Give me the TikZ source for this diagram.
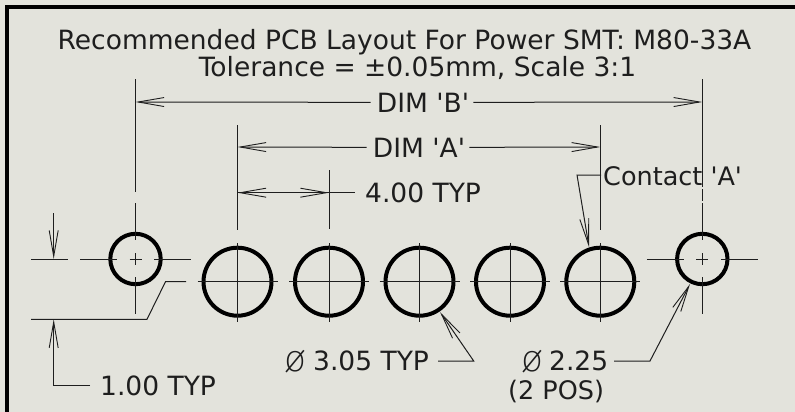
\documentclass[tikz,border=0pt]{standalone}
\usepackage{fontspec}
\setmainfont{DejaVu Sans}
\newfontfamily\diafont{DejaVu Sans ExtraLight}
\usetikzlibrary{arrows.meta}
\definecolor{sheet}{HTML}{E3E3DC}
\definecolor{ink}{HTML}{1E1E1E}
\tikzset{
  thinline/.style={ink, line width=1pt},
  holeline/.style={black, line width=4pt},
  dimarrow/.style={thinline, -{Straight Barb[length=26pt, width=9pt, line width=0.9pt]}},
  dimtext/.style={ink, font=\fontsize{26.5}{26.5}\selectfont, inner sep=0pt},
  diatext/.style={ink, font=\diafont\fontsize{36}{36}\selectfont, inner sep=0pt},
}
\begin{document}
\begin{tikzpicture}[x=1pt, y=-1pt]
    \useasboundingbox (0,0) rectangle (795,412);
    \fill[sheet] (0,0) rectangle (795,412);
    \draw[black, line width=4pt] (7,412) -- (7,7.5) -- (795,7.5);

    % big holes
    \foreach \cx in {237.5,329,419.5,510,600.3} {
        \draw[holeline] (\cx,281.7) circle (34);
        \draw[thinline] (\cx-40,281.7) -- (\cx+40,281.7);
        \draw[thinline] (\cx,243) -- (\cx,322);
    }

    % small holes
    \foreach \cx in {135.5,702.3} {
        \draw[holeline] (\cx,259) circle (25.2);
        \draw[thinline] (\cx-55.5,259) -- (\cx-18.5,259);
        \draw[thinline] (\cx-6,259) -- (\cx+6,259);
        \draw[thinline] (\cx+18.5,259) -- (\cx+55.5,259);
        \draw[thinline] (\cx,253) -- (\cx,265);
        \draw[thinline] (\cx,277) -- (\cx,314);
        \draw[thinline] (\cx,203) -- (\cx,240);
    }

    % extension lines
    \draw[thinline] (135.5,79) -- (135.5,192);
    \draw[thinline] (702.3,79) -- (702.3,187);
    \draw[thinline] (702.3,189) -- (702.3,201);
    \draw[thinline] (237.5,125) -- (237.5,230);
    \draw[thinline] (600.3,125) -- (600.3,230);
    \draw[thinline] (329,170) -- (329,229);
    \draw[thinline] (31,259) -- (68,259);

    % texts
    \node[dimtext, anchor=base] (title) at (404.5,49) {Recommended PCB Layout For Power SMT: M80-33A};
    \node[dimtext, anchor=base] (tol) at (417.5,77) {Tolerance = ±0.05mm, Scale 3:1};
    \node[dimtext, anchor=base] (dimb) at (423,112) {DIM \textquotesingle B\textquotesingle};
    \node[dimtext, anchor=base] (dima) at (419,157) {DIM \textquotesingle A\textquotesingle};
    \node[dimtext, anchor=base west] (pitch) at (365,202) {4.00 TYP};
    \node[dimtext, anchor=base west, font=\fontsize{25.5}{25.5}\selectfont] (contact) at (603,185) {Contact \textquotesingle A\textquotesingle};
    \node[diatext] (bigsym) at (295.5,361.5) {ø};
    \node[dimtext, anchor=base west] (bigdia) at (313,370.7) {3.05 TYP};
    \node[diatext] (smallsym) at (532.7,361.5) {ø};
    \node[dimtext, anchor=base west] (smalldia) at (549,370.7) {2.25};
    \node[dimtext, anchor=base west, font=\fontsize{25.5}{25.5}\selectfont] (pos) at (508,399) {(2 POS)};
    \node[dimtext, anchor=base west] (offset) at (100,395) {1.00 TYP};

    % dimensions
    \draw[dimarrow] (dimb.west) ++(-6,0) -- (135.5,102);
    \draw[dimarrow] (dimb.east) ++(4,0) -- (702.3,102);
    \draw[dimarrow] (dima.west) ++(-6,0) -- (237.5,147);
    \draw[dimarrow] (dima.east) ++(4,0) -- (600.3,147);
    \draw[dimarrow] (329,192.7) -- (237.5,192.7);
    \draw[dimarrow] (237.5,192.7) -- (329,192.7);
    \draw[thinline] (329,192.7) -- (355,192.7);

    % offset
    \draw[dimarrow] (53.7,213) -- (53.7,259);
    \draw[dimarrow] (90,385.5) -- (53.7,385.5) -- (53.7,319.3);
    \draw[thinline] (31,319.3) -- (147,319.3) -- (165.5,281.7) -- (186,281.7);

    % leaders
    \draw[dimarrow] (601,175) -- (577,175) -- (589,247);
    \draw[dimarrow] (438,361) -- (473.7,361) -- (440,312);
    \draw[dimarrow] (614,361) -- (650,361) -- (690,284);
\end{tikzpicture}
\end{document}
